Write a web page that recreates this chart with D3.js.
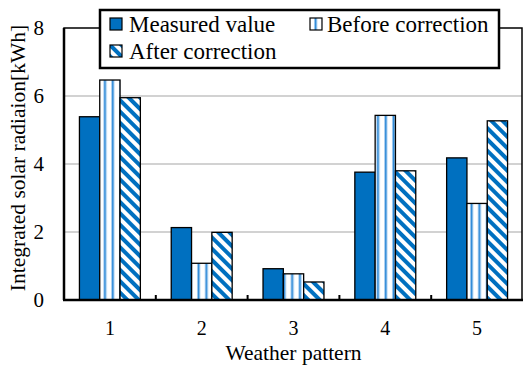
<!DOCTYPE html>
<html>
<head>
<meta charset="utf-8">
<script src="https://cdn.jsdelivr.net/npm/d3@7"></script>
<style>
  body { margin: 0; background: #fff; }
  text { font-family: "Liberation Serif", "DejaVu Serif", serif; fill: #000; }
</style>
</head>
<body>
<div id="chart"></div>
<script>
// data
const categories = ["1", "2", "3", "4", "5"];
const seriesNames = ["Measured value", "Before correction", "After correction"];
const measured = [5.39, 2.13, 0.92, 3.76, 4.18];
const beforeCorr = [6.47, 1.08, 0.77, 5.43, 2.84];
const afterCorr = [5.95, 1.99, 0.53, 3.80, 5.27];
const yTicks = [0, 2, 4, 6, 8];

const width = 523, height = 365;
const margin = { top: 28, right: 0, bottom: 65, left: 64 };
const blue = "#0070c0";
const serif = "'Liberation Serif', 'DejaVu Serif', serif";

const svg = d3.select("#chart").append("svg")
    .attr("width", width).attr("height", height)
    .attr("font-family", serif);

// patterns
const defs = svg.append("defs");
const vert = defs.append("pattern").attr("id", "vstripe")
    .attr("patternUnits", "userSpaceOnUse").attr("width", 7.8).attr("height", 8);
vert.append("rect").attr("width", 7.8).attr("height", 8).attr("fill", "#fff");
vert.append("rect").attr("x", 2).attr("width", 1).attr("height", 8).attr("fill", "#9cc8ee");
vert.append("rect").attr("x", 3).attr("width", 1.6).attr("height", 8).attr("fill", "#1a7fd4");
vert.append("rect").attr("x", 4.6).attr("width", 0.8).attr("height", 8).attr("fill", "#bcdaf4");

const diag = defs.append("pattern").attr("id", "dstripe")
    .attr("patternUnits", "userSpaceOnUse").attr("width", 8).attr("height", 8)
    .attr("patternTransform", "rotate(45)");
diag.append("rect").attr("width", 8).attr("height", 8).attr("fill", "#fff");
diag.append("rect").attr("width", 8).attr("height", 4).attr("fill", blue);

const fills = [blue, "url(#vstripe)", "url(#dstripe)"];

const g = svg.append("g");
const x0 = d3.scaleBand().domain(categories).range([margin.left, 523]).padding(0);
const x1 = d3.scaleBand().domain(seriesNames).range([0, x0.bandwidth()])
    .paddingInner(0).paddingOuter(0.76);
const y = d3.scaleLinear().domain([0, 8]).range([height - margin.bottom, margin.top]);

// gridlines
g.selectAll(".grid").data(yTicks.filter(d => d > 0 && d < 8)).enter().append("line")
    .attr("x1", margin.left).attr("x2", 522)
    .attr("y1", d => y(d)).attr("y2", d => y(d))
    .attr("stroke", "#a6a6a6").attr("stroke-width", 1.2);

// plot frame
g.append("rect")
    .attr("x", margin.left).attr("y", y(8))
    .attr("width", 522 - margin.left).attr("height", y(0) - y(8))
    .attr("fill", "none").attr("stroke", "#000").attr("stroke-width", 1.5);

// bars
const series = [measured, beforeCorr, afterCorr];
const rows = [];
categories.forEach((c, i) => seriesNames.forEach((s, j) => rows.push({ c, s, j, v: series[j][i] })));
g.selectAll(".bar").data(rows).enter().append("rect")
    .attr("x", d => x0(d.c) + x1(d.s))
    .attr("y", d => y(d.v))
    .attr("width", x1.bandwidth())
    .attr("height", d => y(0) - y(d.v))
    .attr("fill", d => fills[d.j])
    .attr("stroke", "#000").attr("stroke-width", 1.3);

// axes lines
g.append("line").attr("x1", margin.left).attr("x2", margin.left)
    .attr("y1", y(8)).attr("y2", y(0)).attr("stroke", "#000").attr("stroke-width", 2.5);
g.append("line").attr("x1", margin.left - 1).attr("x2", 523)
    .attr("y1", y(0)).attr("y2", y(0)).attr("stroke", "#000").attr("stroke-width", 2.5);

// category boundary ticks
g.selectAll(".tick").data(categories.slice(1)).enter().append("line")
    .attr("x1", d => x0(d)).attr("x2", d => x0(d))
    .attr("y1", y(0)).attr("y2", y(0) - 5)
    .attr("stroke", "#000").attr("stroke-width", 2);

// y tick labels
g.selectAll(".ylab").data(yTicks).enter().append("text")
    .attr("x", 44).attr("y", d => y(d)).attr("dy", "0.35em")
    .attr("text-anchor", "end").attr("font-family", serif).attr("font-size", 21)
    .text(d => d);

// x tick labels
g.selectAll(".xlab").data(categories).enter().append("text")
    .attr("x", d => x0(d) + x0.bandwidth() / 2).attr("y", 335)
    .attr("text-anchor", "middle").attr("font-family", serif).attr("font-size", 20)
    .text(d => d);

// axis titles
svg.append("text").attr("x", (margin.left + 523) / 2).attr("y", 360)
    .attr("text-anchor", "middle").attr("font-family", serif).attr("font-size", 21.5)
    .text("Weather pattern");
svg.append("text").attr("transform", "translate(25,158) rotate(-90)")
    .attr("text-anchor", "middle").attr("font-family", serif).attr("font-size", 21.5)
    .text("Integrated solar radiaion[kWh]");

// legend
const lg = svg.append("g");
lg.append("rect").attr("x", 100).attr("y", 10).attr("width", 399).attr("height", 58)
    .attr("fill", "#fff").attr("stroke", "#000").attr("stroke-width", 2.5);
const legPos = [[110, 18], [310, 18], [110, 45]];
seriesNames.forEach((s, j) => {
    const [lx, ly] = legPos[j];
    lg.append("rect").attr("x", lx).attr("y", ly).attr("width", 12).attr("height", 12)
        .attr("fill", fills[j]).attr("stroke", "#000").attr("stroke-width", 1.2);
    lg.append("text").attr("x", lx + (j === 1 ? 17 : 19)).attr("y", ly + 14)
        .attr("font-family", serif).attr("font-size", 23).text(s);
});
</script>
</body>
</html>
